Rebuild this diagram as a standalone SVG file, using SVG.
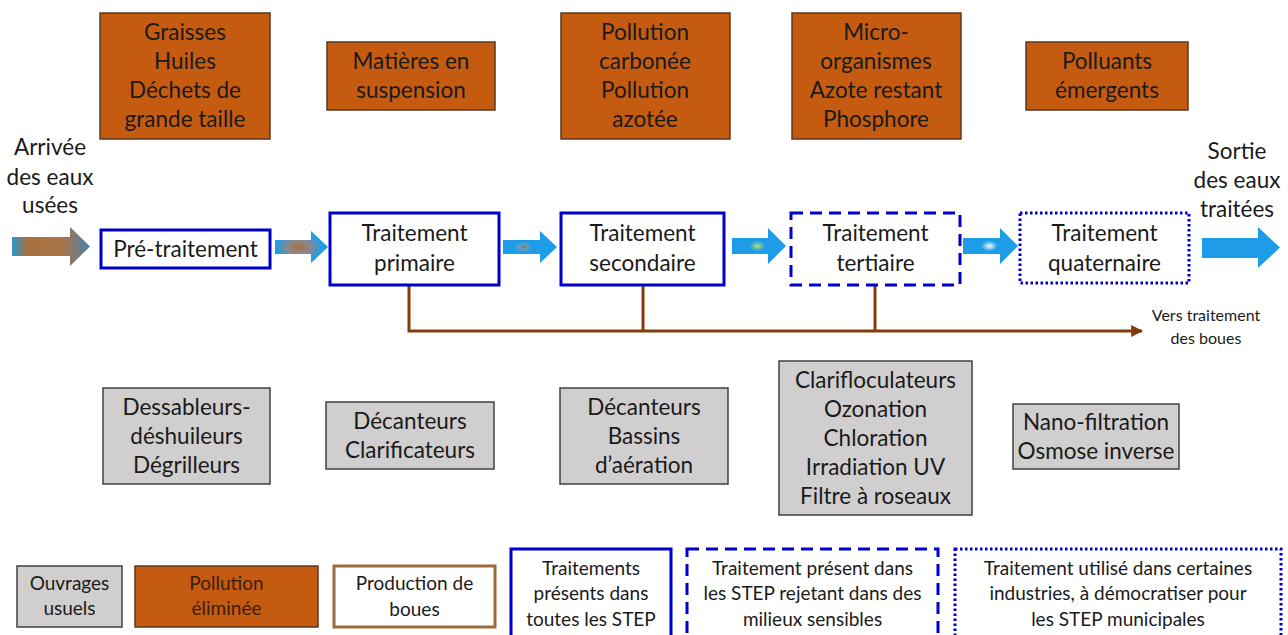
<svg xmlns="http://www.w3.org/2000/svg" width="1288" height="635" viewBox="0 0 1288 635">
<defs>
<style>
text{font-family:Lato,"Liberation Sans",sans-serif;font-size:22.5px;fill:#1a1a1a;text-anchor:middle}
.brown{fill:#C55A11;stroke:#5a3a22;stroke-width:1.5}
.gray{fill:#D0CECE;stroke:#404040;stroke-width:1.5}
.step{fill:#fff;stroke:#0000CC;stroke-width:3}
.dash{stroke-dasharray:12 7}
.dot{stroke-dasharray:2.5 2.5}
.lg{font-size:19px}
.sm{font-size:16px}
.conn{fill:none;stroke:#843C0C;stroke-width:3}
</style>
<linearGradient id="g1" x1="0" y1="0" x2="1" y2="0">
<stop offset="0" stop-color="#2E94D6"/><stop offset="0.2" stop-color="#A8703E"/><stop offset="0.65" stop-color="#A87448"/><stop offset="1" stop-color="#4880AC"/>
</linearGradient>
<radialGradient id="g2" cx="0.45" cy="0.5" r="0.55">
<stop offset="0" stop-color="#A8703E"/><stop offset="0.4" stop-color="#8a8890"/><stop offset="0.8" stop-color="#1E9CE8"/>
</radialGradient>
<radialGradient id="g3" cx="0.38" cy="0.5" r="0.5">
<stop offset="0" stop-color="#A06A3A"/><stop offset="0.15" stop-color="#60a0c8"/><stop offset="0.35" stop-color="#1E9CE8"/>
</radialGradient>
<radialGradient id="g4" cx="0.47" cy="0.5" r="0.5">
<stop offset="0" stop-color="#D0E040"/><stop offset="0.12" stop-color="#70c4a0"/><stop offset="0.3" stop-color="#1E9CE8"/>
</radialGradient>
<radialGradient id="g5" cx="0.48" cy="0.5" r="0.5">
<stop offset="0" stop-color="#FFFFFF"/><stop offset="0.12" stop-color="#9ad4f5"/><stop offset="0.3" stop-color="#1E9CE8"/>
</radialGradient>
<marker id="ah" viewBox="0 0 10 10" refX="9" refY="5" markerWidth="4" markerHeight="4" orient="auto" markerUnits="strokeWidth">
<path d="M0,0 L10,5 L0,10 z" fill="#843C0C"/>
</marker>
</defs>
<rect width="1288" height="635" fill="#fff"/>

<g id="connectors">
<path d="M12,237 H70 V227 L90,246.5 L70,266 V256 H12 Z" fill="url(#g1)"/>
<path d="M275,240 H311 V231 L328,247 L311,263 V254 H275 Z" fill="url(#g2)"/>
<path d="M503,240 H540 V231 L557,247 L540,263 V254 H503 Z" fill="url(#g3)"/>
<path d="M732,238 H768 V228 L786,246 L768,264 V254 H732 Z" fill="url(#g4)"/>
<path d="M963,238 H1000 V228 L1018,246 L1000,264 V254 H963 Z" fill="url(#g5)"/>
<path d="M1202,238 H1258 V227 L1280,247.5 L1258,268 V258 H1202 Z" fill="#1E9CE8"/>
<path class="conn" d="M409,285 V331 M643,285 V331 M875,285 V331 M407.5,331 H1142" marker-end="url(#ah)"/>
</g>

<g id="label-arrivee"><text x="50" y="155">Arrivée</text><text x="50" y="185">des eaux</text><text x="50" y="213">usées</text></g>
<g id="label-sortie"><text x="1237" y="159">Sortie</text><text x="1237" y="188">des eaux</text><text x="1237" y="217">traitées</text></g>
<g id="label-boues"><text class="sm" x="1206" y="321">Vers traitement</text><text class="sm" x="1206" y="344">des boues</text></g>

<g id="pol1"><rect class="brown" x="100" y="13" width="170" height="126"/><text x="185" y="40">Graisses</text><text x="185" y="69">Huiles</text><text x="185" y="98">Déchets de</text><text x="185" y="127">grande taille</text></g>
<g id="pol2"><rect class="brown" x="327" y="42" width="168" height="68"/><text x="411" y="69">Matières en</text><text x="411" y="98">suspension</text></g>
<g id="pol3"><rect class="brown" x="561" y="13" width="169" height="126"/><text x="645" y="40">Pollution</text><text x="645" y="69">carbonée</text><text x="645" y="98">Pollution</text><text x="645" y="127">azotée</text></g>
<g id="pol4"><rect class="brown" x="792" y="13" width="169" height="126"/><text x="876" y="40">Micro-</text><text x="876" y="69">organismes</text><text x="876" y="98">Azote restant</text><text x="876" y="127">Phosphore</text></g>
<g id="pol5"><rect class="brown" x="1026" y="42" width="162" height="68"/><text x="1107" y="69">Polluants</text><text x="1107" y="98">émergents</text></g>

<g id="pretraitement"><rect class="step" x="101" y="230" width="169" height="38"/><text x="185.5" y="257">Pré-traitement</text></g>
<g id="primaire"><rect class="step" x="330" y="213" width="169" height="72"/><text x="414.5" y="241">Traitement</text><text x="414.5" y="271">primaire</text></g>
<g id="secondaire"><rect class="step" x="561" y="213" width="163" height="72"/><text x="642.5" y="241">Traitement</text><text x="642.5" y="271">secondaire</text></g>
<g id="tertiaire"><rect class="step dash" x="791" y="213" width="169" height="72"/><text x="875.5" y="241">Traitement</text><text x="875.5" y="271">tertiaire</text></g>
<g id="quaternaire"><rect class="step dot" x="1020" y="213" width="169" height="70"/><text x="1104.5" y="241">Traitement</text><text x="1104.5" y="271">quaternaire</text></g>

<g id="ouv1"><rect class="gray" x="103" y="388" width="167" height="96"/><text x="186.5" y="415">Dessableurs-</text><text x="186.5" y="444">déshuileurs</text><text x="186.5" y="473">Dégrilleurs</text></g>
<g id="ouv2"><rect class="gray" x="326" y="402" width="168" height="67"/><text x="410" y="429">Décanteurs</text><text x="410" y="458">Clarificateurs</text></g>
<g id="ouv3"><rect class="gray" x="560" y="388" width="168" height="96"/><text x="644" y="415">Décanteurs</text><text x="644" y="444">Bassins</text><text x="644" y="473">d’aération</text></g>
<g id="ouv4"><rect class="gray" x="779" y="361" width="193" height="154"/><text x="875.5" y="388">Clarifloculateurs</text><text x="875.5" y="417">Ozonation</text><text x="875.5" y="446">Chloration</text><text x="875.5" y="475">Irradiation UV</text><text x="875.5" y="504">Filtre à roseaux</text></g>
<g id="ouv5"><rect class="gray" x="1013" y="404" width="166" height="65"/><text x="1096" y="430">Nano-filtration</text><text x="1096" y="459">Osmose inverse</text></g>

<g id="legend-ouvrages"><rect class="gray" x="17" y="566" width="105" height="61"/><text class="lg" x="69.5" y="590">Ouvrages</text><text class="lg" x="69.5" y="615">usuels</text></g>
<g id="legend-pollution"><rect class="brown" x="135" y="566" width="183" height="61"/><text class="lg" x="226.5" y="590" style="fill:#3b1f0a">Pollution</text><text class="lg" x="226.5" y="615" style="fill:#3b1f0a">éliminée</text></g>
<g id="legend-boues"><rect x="334" y="566" width="161" height="61" fill="#fff" stroke="#9C6B3C" stroke-width="3"/><text class="lg" x="414.5" y="590">Production de</text><text class="lg" x="414.5" y="616">boues</text></g>
<g id="legend-toutes"><rect class="step" x="511" y="549" width="160" height="95"/><text class="lg" x="591" y="575">Traitements</text><text class="lg" x="591" y="600">présents dans</text><text class="lg" x="591" y="626">toutes les STEP</text></g>
<g id="legend-sensibles"><rect class="step dash" x="687" y="549" width="251" height="95"/><text class="lg" x="812.5" y="575">Traitement présent dans</text><text class="lg" x="812.5" y="600">les STEP rejetant dans des</text><text class="lg" x="812.5" y="626">milieux sensibles</text></g>
<g id="legend-industries"><rect class="step dot" x="955" y="549" width="326" height="95"/><text class="lg" x="1118" y="575">Traitement utilisé dans certaines</text><text class="lg" x="1118" y="600">industries, à démocratiser pour</text><text class="lg" x="1118" y="626">les STEP municipales</text></g>
</svg>
